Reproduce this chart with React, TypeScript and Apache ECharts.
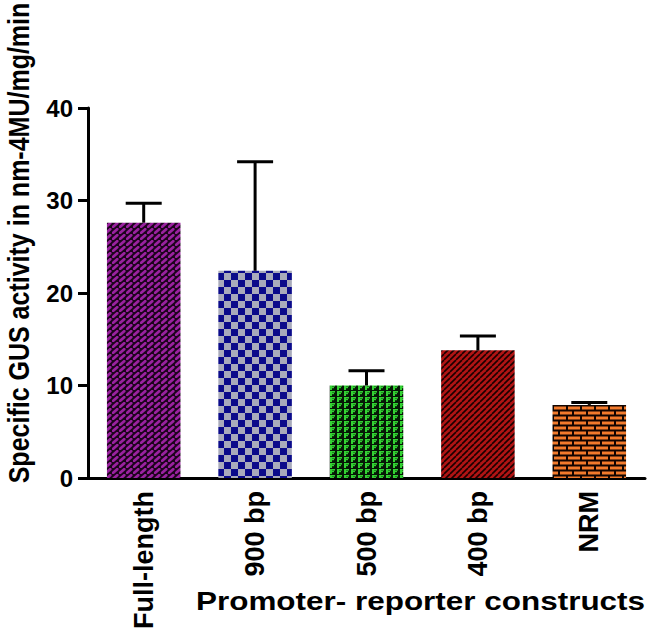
import React, { useEffect, useRef } from "react";
import * as echarts from "echarts";

const categories = ["Full-length", "900 bp", "500 bp", "400 bp", "NRM"];
const meanValues = [27.6, 22.4, 10.0, 13.8, 7.9];
const errorTops = [29.7, 34.2, 11.6, 15.35, 8.15];
const yTicks = [0, 10, 20, 30, 40];

function makeTile(kind: string): HTMLCanvasElement {
  const c = document.createElement("canvas");
  let w = 8, h = 8;
  if (kind === "purple") { w = 7; h = 6; }
  if (kind === "check") { w = 14; h = 14; }
  if (kind === "green") { w = 7; h = 6; }
  if (kind === "red") { w = 6; h = 6; }
  if (kind === "brick") { w = 14; h = 10; }
  c.width = w; c.height = h;
  const ctx = c.getContext("2d")!;
  if (kind === "purple") {
    ctx.fillStyle = "#1c041c"; ctx.fillRect(0, 0, w, h);
    ctx.strokeStyle = "#9a22a0"; ctx.lineWidth = 2.8; ctx.lineCap = "round";
    ctx.beginPath(); ctx.moveTo(1.2, 4.8); ctx.lineTo(5.2, 1.2); ctx.stroke();
  } else if (kind === "check") {
    ctx.fillStyle = "#a9abbb"; ctx.fillRect(0, 0, w, h);
    ctx.fillStyle = "#0b0b8a"; ctx.fillRect(0, 0, 7, 7); ctx.fillRect(7, 7, 7, 7);
  } else if (kind === "green") {
    ctx.fillStyle = "#061806"; ctx.fillRect(0, 0, w, h);
    ctx.fillStyle = "#33d233";
    ctx.fillRect(1, 1, 2, 5);
    ctx.fillRect(1, 1, 5, 1.6);
    ctx.fillRect(3, 3, 2, 1.2);
  } else if (kind === "red") {
    ctx.fillStyle = "#b01414"; ctx.fillRect(0, 0, w, h);
    ctx.strokeStyle = "#1a0000"; ctx.lineWidth = 1.6;
    for (let o = -w; o <= w; o += w) {
      ctx.beginPath(); ctx.moveTo(o, h); ctx.lineTo(o + w, 0); ctx.stroke();
    }
  } else if (kind === "brick") {
    ctx.fillStyle = "#120400"; ctx.fillRect(0, 0, w, h);
    ctx.fillStyle = "#f27a2c";
    ctx.fillRect(0, 1.5, 12, 3);
    ctx.fillRect(8, 6.5, 12, 3); ctx.fillRect(-6, 6.5, 12, 3);
  }
  return c;
}

export default function App() {
  const ref = useRef<HTMLDivElement>(null);
  useEffect(() => {
    if (!ref.current) return;
    const chart = echarts.init(ref.current, null, { renderer: "svg" });
    const kinds = ["purple", "check", "green", "red", "brick"];
    const patterns = kinds.map((k) => ({ image: makeTile(k), repeat: "repeat" }));
    const font = "Arial, 'Liberation Sans', sans-serif";
    chart.setOption({
      animation: false,
      backgroundColor: "#ffffff",
      grid: { left: 88, right: 16, top: 108, bottom: 164, containLabel: false },
      xAxis: {
        type: "category",
        data: categories,
        axisLine: { lineStyle: { color: "#000", width: 3 } },
        axisTick: { show: false },
        axisLabel: {
          rotate: 90,
          margin: 13,
          color: "#000",
          fontWeight: "bold",
          fontSize: 27,
          fontFamily: font,
        },
      },
      yAxis: {
        type: "value",
        min: 0,
        max: 40,
        interval: 10,
        splitLine: { show: false },
        axisLine: { show: true, lineStyle: { color: "#000", width: 3 } },
        axisTick: { show: true, length: 10, lineStyle: { color: "#000", width: 3 } },
        axisLabel: {
          color: "#000",
          fontWeight: "bold",
          fontSize: 24,
          fontFamily: font,
          margin: 15,
          formatter: (v: number) => (yTicks.includes(v) ? String(v) : ""),
        },
      },
      graphic: [
        {
          type: "text",
          x: 19,
          y: 243,
          rotation: Math.PI / 2,
          scaleY: 1.15,
          style: {
            text: "Specific GUS activity in nm-4MU/mg/min",
            fill: "#000",
            font: `bold 25px ${font}`,
            textAlign: "center",
            textVerticalAlign: "middle",
          },
        },
        {
          type: "text",
          x: 196,
          y: 601,
          scaleX: 1.21,
          style: {
            text: "Promoter- reporter constructs",
            fill: "#000",
            font: `bold 26px ${font}`,
            textAlign: "left",
            textVerticalAlign: "middle",
          },
        },
      ],
      series: [
        {
          type: "bar",
          barWidth: "66%",
          data: meanValues.map((v, i) => ({
            value: v,
            itemStyle: { color: patterns[i] },
          })),
        },
        {
          type: "custom",
          data: meanValues.map((v, i) => [i, v, errorTops[i]]),
          renderItem: (params: any, api: any) => {
            const i = api.value(0);
            const base = api.coord([i, api.value(1)]);
            const top = api.coord([i, api.value(2)]);
            const half = 18;
            return {
              type: "group",
              children: [
                {
                  type: "line",
                  shape: { x1: base[0], y1: base[1], x2: top[0], y2: top[1] },
                  style: { stroke: "#000", lineWidth: 3 },
                },
                {
                  type: "line",
                  shape: { x1: top[0] - half, y1: top[1], x2: top[0] + half, y2: top[1] },
                  style: { stroke: "#000", lineWidth: 3 },
                },
              ],
            };
          },
          z: 5,
        },
      ],
    });
    return () => chart.dispose();
  }, []);
  return <div ref={ref} style={{ width: 661, height: 642, position: "absolute", left: 0, top: 0 }} />;
}
